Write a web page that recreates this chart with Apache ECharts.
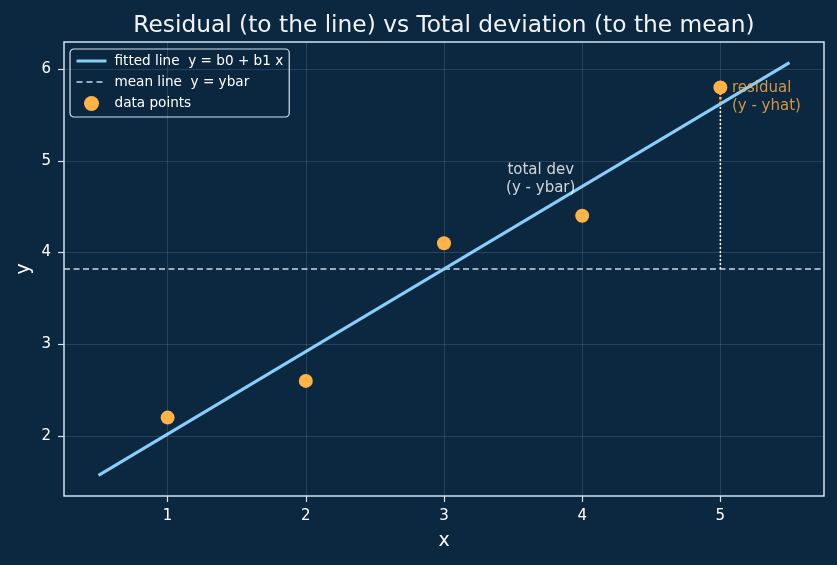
<!DOCTYPE html>
<html>
<head>
<meta charset="utf-8">
<script src="https://cdn.jsdelivr.net/npm/echarts@6/dist/echarts.min.js"></script>
<style>html,body{margin:0;padding:0;background:#0c2740;}#c{width:837px;height:565px;}</style>
</head>
<body>
<div id="c"></div>
<script>
var xValues = [1, 2, 3, 4, 5];
var yValues = [2.2, 2.6, 4.1, 4.4, 5.8];
var b0 = 1.12, b1 = 0.9, ybar = 3.82;
var lineX = [0.5, 5.5];
var xRange = [0.25, 5.75];
var yRange = [1.345, 6.295];
var xTicks = [1, 2, 3, 4, 5];
var yTicks = [2, 3, 4, 5, 6];
var highlightIndex = 4;
var totalDevLabelPos = [3.7, 4.80];
var residualLabelPos = [5.08, 5.69];

var FONT = 'DejaVu Sans';
var fitted = lineX.map(function (x) { return [x, b0 + b1 * x]; });
var meanLine = xRange.map(function (x) { return [x, ybar]; });
var pts = xValues.map(function (x, i) { return [x, yValues[i]]; });
var hx = xValues[highlightIndex], hy = yValues[highlightIndex], yhat = b0 + b1 * hx;
var gridStyle = { color: 'rgba(255,255,255,0.16)', width: 0.8, type: 'solid' };
var hideSym = { color: 'rgba(0,0,0,0)', borderColor: 'rgba(0,0,0,0)', borderWidth: 0 };

var chart = echarts.init(document.getElementById('c'));
chart.setOption({
  backgroundColor: '#0c2740',
  animation: false,
  textStyle: { fontFamily: FONT },
  title: {
    text: 'Residual (to the line) vs Total deviation (to the mean)',
    left: 439, top: 9, textAlign: 'center',
    textStyle: { color: '#f0f4f8', fontSize: 23.3, fontWeight: 'normal', fontFamily: FONT }
  },
  legend: {
    orient: 'vertical', left: 70, top: 49,
    data: [
      { name: 'fitted line  y = b0 + b1 x', itemStyle: hideSym, lineStyle: { color: '#87cefa', width: 3, type: 'solid' } },
      { name: 'mean line  y = ybar', itemStyle: hideSym, lineStyle: { color: '#c9d9e8', width: 1.5, type: [6, 4] } },
      { name: 'data points' }
    ],
    itemWidth: 30, itemHeight: 15, itemGap: 7,
    padding: [5, 6, 6, 5],
    backgroundColor: 'rgba(12,39,64,0.85)',
    borderColor: '#d2e4f2', borderWidth: 1.2, borderRadius: 4,
    textStyle: { color: '#ffffff', fontSize: 13.6, padding: [0, 0, 0, 3], fontFamily: FONT }
  },
  grid: { left: 64, right: 13, top: 42, bottom: 69, show: true, borderColor: '#d2e4f2', borderWidth: 1.5, backgroundColor: 'transparent' },
  xAxis: {
    type: 'value', min: xRange[0], max: xRange[1],
    name: 'x', nameLocation: 'middle', nameGap: 36, nameMoveOverlap: false,
    nameTextStyle: { color: '#ffffff', fontSize: 19, fontFamily: FONT },
    axisLine: { show: false },
    axisTick: { show: true, customValues: xTicks, length: 6, lineStyle: { color: '#d2e4f2', width: 1.2 } },
    axisLabel: { customValues: xTicks, color: '#ffffff', fontSize: 15, margin: 13, fontFamily: FONT },
    splitLine: { show: false }
  },
  yAxis: {
    type: 'value', min: yRange[0], max: yRange[1],
    name: 'y', nameLocation: 'middle', nameGap: 30, nameRotate: 90, nameMoveOverlap: false,
    nameTextStyle: { color: '#ffffff', fontSize: 19, fontFamily: FONT },
    axisLine: { show: false },
    axisTick: { show: true, customValues: yTicks, length: 6, lineStyle: { color: '#d2e4f2', width: 1.2 } },
    axisLabel: { customValues: yTicks, color: '#ffffff', fontSize: 15, margin: 13, fontFamily: FONT },
    splitLine: { show: false }
  },
  series: [
    {
      name: 'grid', type: 'line', data: [], silent: true,
      markLine: {
        silent: true, symbol: 'none', label: { show: false },
        lineStyle: gridStyle,
        data: xTicks.map(function (v) { return { xAxis: v }; }).concat(yTicks.map(function (v) { return { yAxis: v }; }))
      }
    },
    {
      name: 'mean line  y = ybar', type: 'line', data: meanLine, symbol: 'none', z: 3,
      lineStyle: { color: '#c9d9e8', width: 1.4, type: [6, 3.5] }, itemStyle: { color: '#c9d9e8' }
    },
    {
      name: 'totaldev', type: 'line', data: [[hx, ybar], [hx, yhat]], symbol: 'none', z: 3,
      lineStyle: { color: '#ffffff', width: 1.5, type: [2, 2] }
    },
    {
      name: 'fitted line  y = b0 + b1 x', type: 'line', data: fitted, symbol: 'none', z: 4,
      lineStyle: { color: '#87cefa', width: 3 }, itemStyle: { color: '#87cefa' }
    },
    {
      name: 'residual', type: 'line', data: [[hx, yhat], [hx, hy]], symbol: 'none', z: 5,
      lineStyle: { color: '#ffb347', width: 2.5, type: [2.5, 2] }
    },
    {
      name: 'data points', type: 'scatter', data: pts, symbolSize: 14, z: 6,
      itemStyle: { color: '#ffb347', opacity: 1 }
    },
    {
      name: 'labels', type: 'scatter', symbolSize: 1, z: 7, silent: true,
      itemStyle: { color: 'rgba(0,0,0,0)' },
      data: [
        { value: totalDevLabelPos, label: { show: true, position: 'inside', formatter: 'total dev\n(y - ybar)', color: '#ffffff', fontSize: 15, lineHeight: 18, align: 'center', fontFamily: FONT } },
        { value: residualLabelPos, label: { show: true, position: 'right', distance: 0, formatter: 'residual\n(y - yhat)', color: '#ffb347', fontSize: 15, lineHeight: 18, align: 'left', fontFamily: FONT } }
      ]
    }
  ]
});
</script>
</body>
</html>
